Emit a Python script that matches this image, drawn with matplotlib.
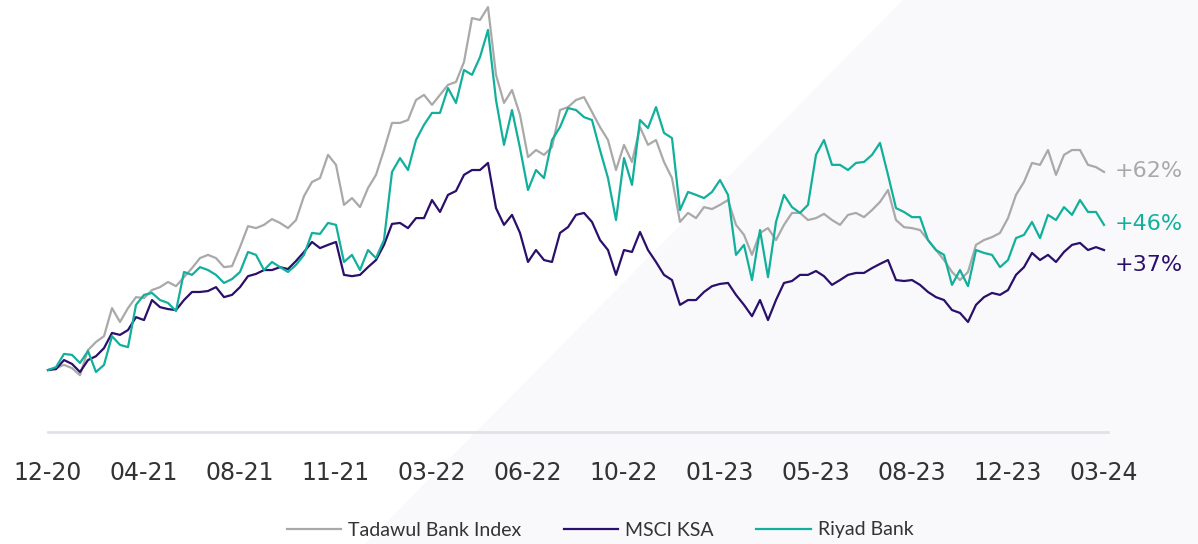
import matplotlib
matplotlib.use("Agg")
import matplotlib.pyplot as plt
from matplotlib.patches import Polygon
import numpy as np

# ---- data (cumulative performance, %) ----
tick_labels = ["12-20", "04-21", "08-21", "11-21", "03-22", "06-22",
               "10-22", "01-23", "05-23", "08-23", "12-23", "03-24"]

tadawul_bank = [
    0, 0.6, 1.6, 0.6, -1.6, 6.2, 8.7, 10.5, 19.2, 14.9, 19.2, 22.6,
    22.3, 24.8, 25.7, 27.3, 26.0, 28.8, 31.6, 34.7, 35.7, 34.7, 31.9, 32.2,
    38.1, 44.6, 44.0, 45.0, 46.8, 45.6, 44.0, 46.5, 53.9, 58.3, 59.5, 66.7,
    63.6, 51.2, 53.3, 50.5, 56.4, 60.5, 68.2, 76.6, 76.6, 77.5, 83.7, 85.3,
    82.2, 85.3, 88.4, 89.3, 95.5, 109.1, 108.5, 112.5, 91.5, 82.8, 86.8, 79.1,
    66.0, 68.2, 66.7, 69.1, 80.6, 81.5, 83.7, 84.6, 80.0, 75.3, 71.3, 62.0,
    69.8, 64.5, 75.3, 69.8, 71.3, 64.5, 59.5, 45.9, 48.7, 47.1, 50.5, 49.9,
    51.2, 52.7, 45.0, 41.9, 35.7, 42.5, 44.0, 40.3, 45.0, 48.7, 48.7, 46.5,
    47.1, 48.4, 46.5, 45.0, 48.1, 48.7, 47.4, 49.6, 52.1, 55.8, 46.5, 44.3,
    44.0, 43.4, 40.3, 37.2, 34.1, 30.4, 27.9, 30.4, 38.8, 40.3, 41.2, 42.5,
    47.1, 54.3, 58.3, 64.2, 63.6, 68.2, 60.5, 66.7, 68.2, 68.2, 63.6, 62.9,
    61.4,
]

msci_ksa = [
    0, 0.3, 3.1, 1.9, -0.6, 3.1, 4.3, 6.8, 11.5, 10.9, 12.4, 16.4,
    15.5, 21.7, 19.5, 18.9, 18.6, 21.7, 24.2, 24.2, 24.5, 25.7, 22.6, 23.3,
    25.7, 29.1, 29.8, 31.0, 31.0, 31.9, 31.3, 33.8, 36.6, 39.7, 37.8, 38.8,
    39.7, 29.5, 29.1, 29.5, 31.9, 34.1, 38.8, 45.3, 45.6, 44.0, 47.1, 47.1,
    52.7, 49.0, 54.3, 55.5, 60.5, 62.0, 62.0, 64.2, 50.2, 45.0, 48.1, 42.5,
    33.5, 37.2, 34.1, 33.5, 42.5, 44.3, 48.1, 48.7, 45.9, 40.3, 37.2, 29.5,
    37.2, 36.6, 42.8, 37.2, 33.5, 29.5, 27.9, 20.2, 21.7, 21.7, 24.2, 26.0,
    26.7, 27.0, 23.3, 20.2, 16.7, 21.7, 15.5, 21.7, 27.0, 27.6, 29.5, 29.5,
    30.7, 29.1, 26.4, 27.9, 29.5, 30.1, 30.1, 31.6, 32.9, 34.1, 27.9, 27.6,
    27.9, 26.4, 24.2, 22.6, 21.7, 18.6, 17.7, 14.9, 20.2, 22.6, 23.9, 23.3,
    24.8, 29.5, 31.9, 36.3, 34.1, 35.7, 33.5, 36.6, 38.8, 39.4, 37.2, 38.1,
    37.2,
]

riyad_bank = [
    0, 0.9, 5.0, 4.7, 2.2, 5.9, -0.6, 1.6, 10.5, 7.8, 7.1, 20.2,
    23.3, 23.9, 21.7, 20.8, 18.3, 30.4, 29.5, 31.9, 31.0, 29.5, 27.0, 28.2,
    30.4, 36.6, 35.7, 31.0, 33.5, 31.9, 30.4, 32.6, 35.7, 42.5, 42.2, 45.6,
    45.0, 33.5, 35.7, 31.0, 37.2, 34.7, 40.3, 61.4, 65.7, 62.0, 71.3, 76.0,
    79.7, 79.7, 87.4, 82.8, 93.0, 91.5, 97.0, 105.4, 83.7, 69.8, 80.6, 68.8,
    55.8, 62.0, 59.5, 71.3, 75.3, 81.2, 80.6, 78.4, 77.5, 68.2, 59.5, 46.5,
    65.7, 57.4, 77.5, 75.0, 81.5, 73.5, 71.9, 49.6, 55.2, 54.3, 53.3, 55.2,
    58.9, 54.3, 35.7, 38.8, 27.9, 43.4, 28.8, 45.9, 54.3, 50.5, 48.7, 51.2,
    66.7, 71.3, 63.6, 63.6, 62.0, 64.2, 64.5, 66.7, 70.4, 60.5, 50.2, 49.0,
    47.4, 47.4, 40.3, 37.2, 35.7, 26.4, 31.0, 26.0, 37.2, 36.3, 35.7, 31.9,
    34.1, 40.9, 41.9, 45.9, 40.9, 48.1, 46.5, 50.5, 48.1, 52.7, 49.0, 49.0,
    45.0,
]

series_names = ["Tadawul Bank Index", "MSCI KSA", "Riyad Bank"]
end_labels = ["+62%", "+37%", "+46%"]
colors = ["#a9a9a9", "#2a0f6b", "#12b09c"]

W, H = 1198, 544
fig = plt.figure(figsize=(W / 100, H / 100), dpi=100)

# background diagonal panel
bg = fig.add_axes([0, 0, 1, 1], zorder=-5)
bg.set_xlim(0, W)
bg.set_ylim(H, 0)
bg.axis("off")
bg.add_patch(Polygon([(903, 0), (365, H), (W, H), (W, 0)], closed=True,
                     facecolor="#f9f9fb", edgecolor="none"))

left, right = 48, 1108
top, bottom = 0, 432
ax = fig.add_axes([left / W, 1 - bottom / H, (right - left) / W, (bottom - top) / H])
ax.patch.set_alpha(0)

data = [tadawul_bank, msci_ksa, riyad_bank]
for vals, name, c in zip(data, series_names, colors):
    x = np.arange(len(vals))
    ax.plot(x, vals, color=c, lw=1.6, label=name, solid_joinstyle="round",
            clip_on=False)

n = len(tadawul_bank)
step = 12
ax.set_xlim(0, n - 0.5)
ax.set_ylim(-19.2, 114.7)
ax.set_xticks(np.arange(0, n, step)[:len(tick_labels)])
ax.set_xticklabels(tick_labels, fontsize=17, color="#333333")
ax.tick_params(axis="x", length=0, pad=21)
ax.set_yticks([])
for s in ["top", "right", "left"]:
    ax.spines[s].set_visible(False)
ax.spines["bottom"].set_color("#e1e1e8")
ax.spines["bottom"].set_linewidth(2)

# end labels
offsets = [0.3, -4.6, 0.3]
for vals, lab, c, off in zip(data, end_labels, colors, offsets):
    ax.text(n - 1 + 1.3, vals[-1] + off, lab, color=c, fontsize=16,
            ha="left", va="center", clip_on=False)

leg = fig.legend(loc="center", bbox_to_anchor=(600 / W, 14 / H), ncol=3,
                 frameon=False, handlelength=2.8,
                 handletextpad=0.35, columnspacing=2.2,
                 prop={"family": "Lato", "size": 14})
for t in leg.get_texts():
    t.set_color("#333333")

fig.savefig("out.png", dpi=100)
